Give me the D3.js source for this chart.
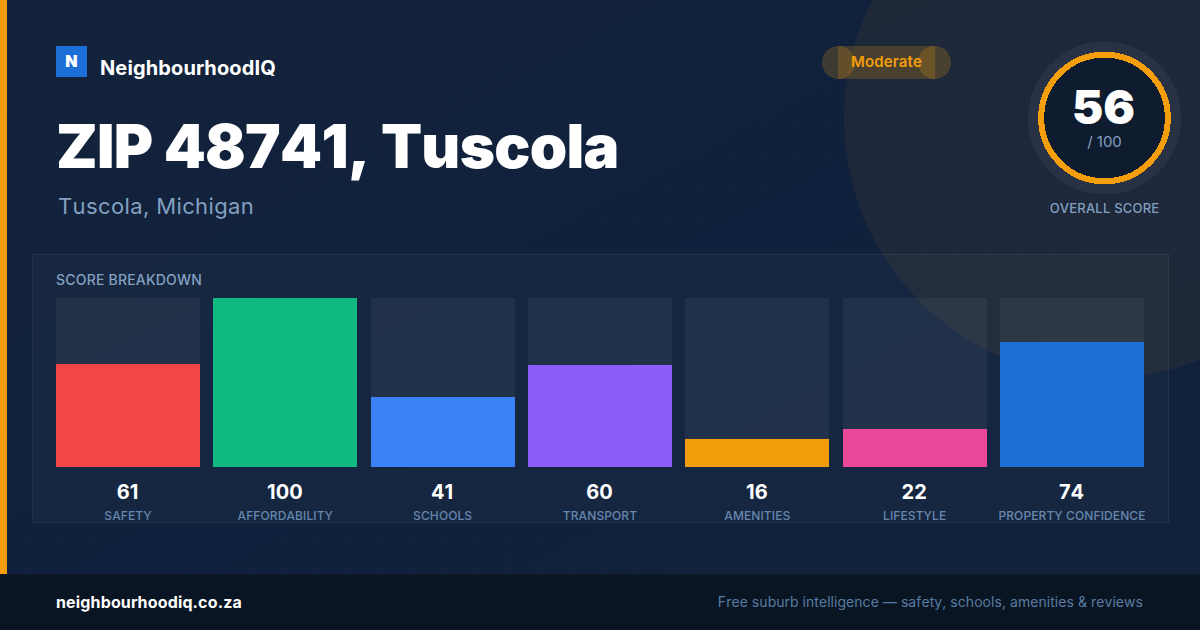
<!DOCTYPE html>
<html>
<head>
<meta charset="utf-8">
<script src="https://cdn.jsdelivr.net/npm/d3@7"></script>
<style>
html, body { margin: 0; padding: 0; background: #12223c; }
svg { display: block; }
text { font-family: Inter, sans-serif; font-kerning: none; }
</style>
</head>
<body>
<svg id="card" width="1200" height="630"></svg>
<script>
var categories = ["SAFETY", "AFFORDABILITY", "SCHOOLS", "TRANSPORT", "AMENITIES", "LIFESTYLE", "PROPERTY CONFIDENCE"];
var scores = [61, 100, 41, 60, 16, 22, 74];
var barColors = ["#f24646", "#10b981", "#3b82f6", "#8b5cf6", "#f59e0b", "#ec4899", "#1d6fd8"];
var overallScore = 56;

var svg = d3.select("#card");
var defs = svg.append("defs");

var grad = defs.append("linearGradient").attr("id", "bg").attr("x1", 0).attr("y1", 0).attr("x2", 1).attr("y2", 1);
grad.append("stop").attr("offset", "0%").attr("stop-color", "#14233b");
grad.append("stop").attr("offset", "50%").attr("stop-color", "#10213d");
grad.append("stop").attr("offset", "100%").attr("stop-color", "#12223c");

var dots = defs.append("pattern").attr("id", "dots").attr("patternUnits", "userSpaceOnUse")
    .attr("width", 32).attr("height", 32);
dots.append("circle").attr("cx", 25).attr("cy", 25).attr("r", 1)
    .attr("fill", "#ffffff").attr("fill-opacity", 0.025);

// background
svg.append("rect").attr("width", 1200).attr("height", 630).attr("fill", "url(#bg)");
svg.append("circle").attr("cx", 1104).attr("cy", 118).attr("r", 260)
    .attr("fill", "#f59e0b").attr("fill-opacity", 0.06);
svg.append("rect").attr("width", 1200).attr("height", 630).attr("fill", "url(#dots)");
svg.append("rect").attr("width", 7).attr("height", 574).attr("fill", "#f59e0b");

// logo
svg.append("rect").attr("x", 56).attr("y", 46).attr("width", 31).attr("height", 31).attr("fill", "#1d6fd8");
svg.append("text").attr("x", 71.5).attr("y", 67).attr("text-anchor", "middle")
    .attr("font-size", 16).attr("font-weight", 900).attr("fill", "#fff").text("N");
svg.append("text").attr("x", 100).attr("y", 75)
    .attr("font-size", 20).attr("font-weight", 700).attr("letter-spacing", 0.13).attr("fill", "#fff").text("NeighbourhoodIQ");

// title
svg.append("text").attr("x", 56).attr("y", 168)
    .attr("font-size", 60).attr("font-weight", 900).attr("letter-spacing", -0.7).attr("fill", "#fff").text("ZIP 48741, Tuscola");
svg.append("text").attr("x", 58).attr("y", 214)
    .attr("font-size", 22).attr("letter-spacing", 0.38).attr("fill", "#83a0c0").text("Tuscola, Michigan");

// rating pill
var pill = svg.append("g").attr("fill", "#f59e0b").attr("fill-opacity", 0.2).attr("shape-rendering", "crispEdges");
pill.append("circle").attr("cx", 838.5).attr("cy", 62.5).attr("r", 16.5);
pill.append("circle").attr("cx", 934.5).attr("cy", 62.5).attr("r", 16.5);
pill.append("rect").attr("x", 838).attr("y", 46).attr("width", 97).attr("height", 33);
svg.append("text").attr("x", 886.5).attr("y", 67).attr("text-anchor", "middle")
    .attr("font-size", 15).attr("font-weight", 600).attr("letter-spacing", 0.15).attr("fill", "#f59e0b").text("Moderate");

// overall gauge
var cx = 1104.5, cy = 118;
svg.append("circle").attr("cx", cx).attr("cy", cy).attr("r", 76.5).attr("fill", "#ffffff").attr("fill-opacity", 0.05)
    .attr("shape-rendering", "crispEdges");
svg.append("circle").attr("cx", cx).attr("cy", cy).attr("r", 63.3).attr("fill", "#0f1b2e")
    .attr("stroke", "#f59e0b").attr("stroke-width", 6).attr("shape-rendering", "crispEdges");
svg.append("text").attr("x", 1103.5).attr("y", 124).attr("text-anchor", "middle")
    .attr("font-size", 47).attr("font-weight", 900).attr("fill", "#fff").text(overallScore);
svg.append("text").attr("x", cx).attr("y", 147).attr("text-anchor", "middle")
    .attr("font-size", 15).attr("fill", "#83a0c0").text("/ 100");
svg.append("text").attr("x", cx).attr("y", 213).attr("text-anchor", "middle")
    .attr("font-size", 13).attr("font-weight", 500).attr("letter-spacing", 0.2).attr("fill", "#83a0c0").text("OVERALL SCORE");

// breakdown panel
svg.append("rect").attr("x", 32.5).attr("y", 254.5).attr("width", 1136).attr("height", 268)
    .attr("fill", "#ffffff").attr("fill-opacity", 0.025)
    .attr("stroke", "#ffffff").attr("stroke-opacity", 0.07);
svg.append("text").attr("x", 56).attr("y", 285)
    .attr("font-size", 14).attr("font-weight", 500).attr("letter-spacing", 0.2).attr("fill", "#83a0c0").text("SCORE BREAKDOWN");

var trackBottom = 467;
var x = d3.scaleBand().domain(categories).range([56, 1144]).paddingInner(13.33 / 157.33);
var y = d3.scaleLinear().domain([0, 100]).range([466.4, 298]);

function barLeft(d) { return Math.round(x(d)); }
function barTop(v) { return Math.round(y(v)); }

var cols = svg.selectAll("g.col").data(categories).enter().append("g").attr("class", "col");
cols.append("rect").attr("x", barLeft).attr("y", barTop(100))
    .attr("width", Math.round(x.bandwidth())).attr("height", trackBottom - barTop(100))
    .attr("fill", "#ffffff").attr("fill-opacity", 0.05);
cols.append("rect").attr("x", barLeft)
    .attr("y", function (d, i) { return barTop(scores[i]); })
    .attr("width", Math.round(x.bandwidth()))
    .attr("height", function (d, i) { return trackBottom - barTop(scores[i]); })
    .attr("fill", function (d, i) { return barColors[i]; });
cols.append("text").attr("x", function (d) { return x(d) + x.bandwidth() / 2 - 0.5; }).attr("y", 498.5)
    .attr("text-anchor", "middle").attr("font-size", 20).attr("font-weight", 700).attr("fill", "#fff")
    .text(function (d, i) { return scores[i]; });
cols.append("text").attr("x", function (d) { return x(d) + x.bandwidth() / 2; }).attr("y", 520)
    .attr("text-anchor", "middle").attr("font-size", 12).attr("font-weight", 500)
    .attr("letter-spacing", 0.1).attr("fill", "#6687ad")
    .text(function (d) { return d; });

// footer
svg.append("rect").attr("y", 574).attr("width", 1200).attr("height", 56).attr("fill", "#0a1524");
svg.append("rect").attr("y", 574).attr("width", 1200).attr("height", 1).attr("fill", "#ffffff").attr("fill-opacity", 0.03);
svg.append("text").attr("x", 56).attr("y", 608)
    .attr("font-size", 16).attr("font-weight", 700).attr("letter-spacing", 0.15).attr("fill", "#fff").text("neighbourhoodiq.co.za");
svg.append("text").attr("x", 1143).attr("y", 607).attr("text-anchor", "end")
    .attr("font-size", 14).attr("letter-spacing", 0.05).attr("fill", "#587ca1")
    .text("Free suburb intelligence \u2014 safety, schools, amenities & reviews");
</script>
</body>
</html>
